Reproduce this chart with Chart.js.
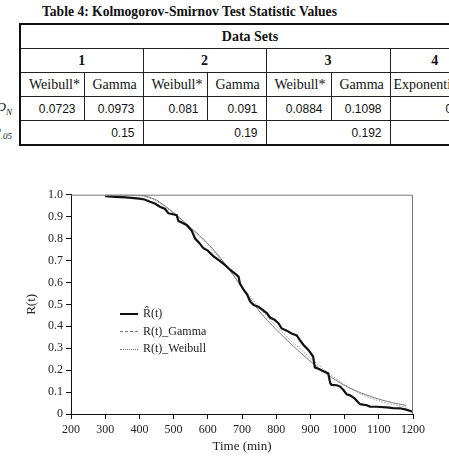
<!DOCTYPE html>
<html>
<head>
<meta charset="utf-8">
<script src="https://cdn.jsdelivr.net/npm/chart.js@4/dist/chart.umd.min.js"></script>
<style>
  html, body { margin:0; padding:0; background:#fff; }
  body { width:449px; height:458px; overflow:hidden; position:relative; }
  #title { position:absolute; left:42px; top:4px; font:bold 13.6px "Liberation Serif", serif; color:#111; white-space:nowrap; }
  #tbl { position:absolute; left:19px; top:23px; border-collapse:collapse; table-layout:fixed; width:460px; border:2px solid #111; color:#111; }
  #tbl td { border:1px solid #222; padding:0 8px; height:23px; white-space:nowrap; overflow:hidden; font:14px "Liberation Serif", serif; text-align:center; }
  #tbl td.b { font-weight:bold; }
  #tbl td.n { font:12px "Liberation Sans", Arial, sans-serif; text-align:right; }
  .rowlab { position:absolute; font:italic 13px "Liberation Serif", serif; color:#111; text-align:right; white-space:nowrap; }
  .rowlab sub { font-size:9px; font-style:italic; }
  #chartwrap { position:absolute; left:0; top:180px; width:449px; height:278px; }
  #legend { position:absolute; left:120px; top:305px; font:12px "Liberation Serif", serif; color:#222; }
  #legend div { height:17.5px; line-height:17.5px; white-space:nowrap; }
  #legend span.s { display:inline-block; width:18px; vertical-align:middle; margin-right:5px; }
</style>
</head>
<body>
<div id="title">Table 4: Kolmogorov-Smirnov Test Statistic Values</div>
<div class="rowlab" style="right:437px; top:99px;"><i>D</i><sub>N</sub></div>
<div class="rowlab" style="right:437px; top:123px;"><i>D</i><sub>.05</sub></div>
<table id="tbl">
  <colgroup>
    <col style="width:64px"><col style="width:59px"><col style="width:64px"><col style="width:59px"><col style="width:65px"><col style="width:59px"><col style="width:90px">
  </colgroup>
  <tr><td class="b" colspan="7">Data Sets</td></tr>
  <tr><td class="b" colspan="2">1</td><td class="b" colspan="2">2</td><td class="b" colspan="2">3</td><td class="b">4</td></tr>
  <tr><td>Weibull*</td><td>Gamma</td><td>Weibull*</td><td>Gamma</td><td>Weibull*</td><td>Gamma</td><td style="text-align:left;padding:0 0 0 3px">Exponential</td></tr>
  <tr><td class="n">0.0723</td><td class="n">0.0973</td><td class="n">0.081</td><td class="n">0.091</td><td class="n">0.0884</td><td class="n">0.1098</td><td class="n" style="text-align:left;padding:0 0 0 55px">0.0</td></tr>
  <tr><td class="n" colspan="2">0.15</td><td class="n" colspan="2">0.19</td><td class="n" colspan="2">0.192</td><td class="n"></td></tr>
</table>

<div id="chartwrap"><canvas id="c" width="449" height="278"></canvas></div>
<div id="legend">
  <div><span class="s" style="border-top:2.5px solid #111"></span>R&#770;(t)</div>
  <div><span class="s" style="border-top:1px dashed #777"></span>R(t)_Gamma</div>
  <div><span class="s" style="border-top:1px dotted #777"></span>R(t)_Weibull</div>
</div>

<script>
// Empirical reliability R^(t)
const tEmp = [300,330,360,400,415,431,445,460,475,485,495,509,514,525,538,553,563,575,587,600,616,636,650,665,684,690,694,704,715,724,734,748,760,773,782,795,807,816,831,845,860,870,880,894,908,913,925,938,952,958,962,977,987,997,1006,1016,1030,1045,1065,1074,1094,1123,1142,1162,1180,1200];
const rEmp = [0.993,0.99,0.988,0.982,0.978,0.968,0.96,0.945,0.935,0.915,0.912,0.907,0.88,0.872,0.862,0.835,0.80,0.78,0.756,0.745,0.72,0.697,0.68,0.658,0.634,0.626,0.595,0.568,0.545,0.512,0.497,0.489,0.475,0.459,0.44,0.43,0.413,0.39,0.38,0.367,0.358,0.335,0.315,0.292,0.262,0.212,0.205,0.195,0.186,0.14,0.133,0.131,0.125,0.108,0.09,0.085,0.07,0.045,0.04,0.034,0.033,0.03,0.027,0.026,0.02,0.01];
// Fitted curves
const tFit = [300,350,400,420,450,500,550,600,650,700,750,800,850,900,950,1000,1050,1100,1150,1180];
const rGamma = [1.0,1.0,0.998,0.993,0.975,0.918,0.85,0.778,0.685,0.578,0.47,0.385,0.31,0.24,0.18,0.13,0.095,0.068,0.048,0.04];
const rWeibull = [1.0,0.999,0.995,0.99,0.97,0.915,0.845,0.77,0.68,0.582,0.487,0.40,0.325,0.255,0.19,0.135,0.09,0.06,0.04,0.032];
// Axis ticks
const xTicks = [200,300,400,500,600,700,800,900,1000,1100,1200];
const yTicks = [0,0.1,0.2,0.3,0.4,0.5,0.6,0.7,0.8,0.9,1.0];

const pts = (xs, ys) => xs.map((x, i) => ({x, y: ys[i]}));

const frame = {
  id: 'frame',
  afterDatasetsDraw(chart) {
    const {ctx, chartArea: a} = chart;
    ctx.save();
    ctx.strokeStyle = '#777';
    ctx.lineWidth = 1;
    ctx.beginPath();
    ctx.moveTo(a.left, a.top + 0.5);
    ctx.lineTo(a.right - 0.5, a.top + 0.5);
    ctx.lineTo(a.right - 0.5, a.bottom);
    ctx.stroke();
    ctx.restore();
  }
};

const serif = '"Liberation Serif", "Times New Roman", serif';
new Chart(document.getElementById('c'), {
  type: 'line',
  data: {
    datasets: [
      { label: 'R^(t)', data: pts(tEmp, rEmp), borderColor: '#111', borderWidth: 2.2, pointRadius: 0, tension: 0, order: 0 },
      { label: 'R(t)_Gamma', data: pts(tFit, rGamma), borderColor: '#7a7a7a', borderWidth: 1, pointRadius: 0, tension: 0.3, order: 1 },
      { label: 'R(t)_Weibull', data: pts(tFit, rWeibull), borderColor: '#999', borderWidth: 1, borderDash: [1.5, 1.5], pointRadius: 0, tension: 0.3, order: 2 }
    ]
  },
  options: {
    responsive: false,
    devicePixelRatio: 1,
    animation: false,
    layout: { padding: { left: 0, right: 36, top: 14.7, bottom: 0 } },
    plugins: { legend: { display: false }, tooltip: { enabled: false } },
    scales: {
      x: {
        type: 'linear', min: 200, max: 1200,
        afterFit: s => { s.height = 44; },
        afterBuildTicks: s => { s.ticks = xTicks.map(v => ({value: v})); },
        ticks: { font: { family: serif, size: 12 }, color: '#222', padding: 4, maxRotation: 0,
          callback: v => String(v) },
        grid: { drawOnChartArea: false, drawTicks: true, tickLength: 5, color: '#111' },
        border: { color: '#111', width: 1 },
        title: { display: true, text: 'Time (min)', font: { family: serif, size: 13 }, color: '#222', padding: { bottom: 4 } }
      },
      y: {
        type: 'linear', min: 0, max: 1,
        afterFit: s => { s.width = 71; },
        afterBuildTicks: s => { s.ticks = yTicks.map(v => ({value: v})); },
        ticks: { font: { family: serif, size: 12 }, color: '#222', padding: 3,
          callback: v => v === 0 ? '0' : Number(v).toFixed(1) },
        grid: { drawOnChartArea: false, drawTicks: true, tickLength: 5, color: '#111' },
        border: { color: '#111', width: 1 },
        title: { display: true, text: 'R(t)', font: { family: serif, size: 13 }, color: '#222', padding: { top: 24 } }
      }
    }
  },
  plugins: [frame]
});
</script>
</body>
</html>
